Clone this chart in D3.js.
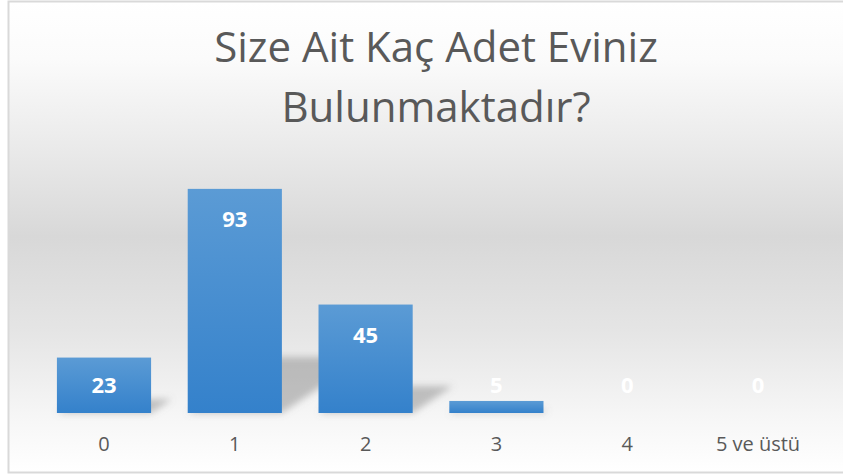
<!DOCTYPE html>
<html>
<head>
<meta charset="utf-8">
<script src="https://cdn.jsdelivr.net/npm/d3@7"></script>
<style>
  html, body { margin: 0; padding: 0; background: #fff; }
  svg { display: block; font-family: "Open Sans", "Noto Sans", sans-serif; }
</style>
</head>
<body>
<svg id="chart"></svg>
<script>
// chart data
const categories = ['0', '1', '2', '3', '4', '5 ve üstü'];
const values = [23, 93, 45, 5, 0, 0];
const titleLines = ['Size Ait Kaç Adet Eviniz', 'Bulunmaktadır?'];
const yDomain = [0, 100];

const width = 843;
const height = 474;

const svg = d3.select('#chart')
    .attr('width', width)
    .attr('height', height);

const defs = svg.append('defs');

// chart area background: light in the top and bottom, grey in the middle
const bg = defs.append('linearGradient')
    .attr('id', 'bg')
    .attr('x1', 0).attr('y1', 0).attr('x2', 0).attr('y2', 1);
[[0, '#ffffff'], [0.12, '#fbfbfb'], [0.3, '#ebebeb'], [0.5, '#d8d8d8'], [0.7, '#e5e5e5'], [0.88, '#f6f6f6'], [1, '#ffffff']]
    .forEach(([o, c]) => bg.append('stop').attr('offset', o).attr('stop-color', c));

const barGrad = defs.append('linearGradient')
    .attr('id', 'bar')
    .attr('x1', 0).attr('y1', 0).attr('x2', 0).attr('y2', 1);
barGrad.append('stop').attr('offset', 0).attr('stop-color', '#5b9bd5');
barGrad.append('stop').attr('offset', 1).attr('stop-color', '#3481cb');

defs.append('filter')
    .attr('id', 'blur')
    .attr('x', '-30%').attr('y', '-30%').attr('width', '160%').attr('height', '160%')
    .append('feGaussianBlur')
    .attr('stdDeviation', 3.5);

svg.append('rect')
    .attr('x', 8.5)
    .attr('y', 1.5)
    .attr('width', 840)
    .attr('height', 471)
    .attr('fill', 'url(#bg)')
    .attr('stroke', '#d9d9d9')
    .attr('stroke-width', 2);

const x = d3.scaleBand()
    .domain(categories)
    .range([38.6, 823.4])
    .paddingInner(0.28)
    .paddingOuter(0.14);

const y = d3.scaleLinear()
    .domain(yDomain)
    .range([413, 172]);

const base = y(0);

// perspective shadows behind the bars
svg.append('g')
    .attr('filter', 'url(#blur)')
    .selectAll('polygon')
    .data(values.map((v, i) => ({ v, c: categories[i] })))
    .join('polygon')
    .attr('points', (d) => {
        const x0 = x(d.c);
        const x1 = x0 + x.bandwidth();
        const h = base - y(d.v);
        const dx = h * 0.37;
        const dy = h * 0.25;
        return [[x0, base], [x1, base], [x1 + dx, base - dy], [x0 + dx, base - dy]].join(' ');
    })
    .attr('fill', '#7f7f7f')
    .attr('opacity', 0.45);

svg.append('g')
    .selectAll('rect')
    .data(values.map((v, i) => ({ v, c: categories[i] })))
    .join('rect')
    .attr('x', d => x(d.c))
    .attr('y', d => y(d.v))
    .attr('width', x.bandwidth())
    .attr('height', d => base - y(d.v))
    .attr('fill', 'url(#bar)');

// data labels, inside end (pushed up when the bar is too short)
svg.append('g')
    .selectAll('text')
    .data(values.map((v, i) => ({ v, c: categories[i] })))
    .join('text')
    .attr('x', d => x(d.c) + x.bandwidth() / 2)
    .attr('y', d => Math.min(y(d.v) + 38, base - 20))
    .attr('text-anchor', 'middle')
    .attr('font-size', 22)
    .attr('font-weight', 700)
    .attr('fill', '#ffffff')
    .text(d => d.v);

// category axis labels
svg.append('g')
    .selectAll('text')
    .data(categories)
    .join('text')
    .attr('x', d => x(d) + x.bandwidth() / 2)
    .attr('y', 451)
    .attr('text-anchor', 'middle')
    .attr('font-size', 20)
    .attr('fill', '#595959')
    .text(d => d);

svg.append('g')
    .selectAll('text')
    .data(titleLines)
    .join('text')
    .attr('x', 436)
    .attr('y', (d, i) => 62 + i * 60)
    .attr('text-anchor', 'middle')
    .attr('font-size', 42)
    .attr('font-weight', 400)
    .attr('fill', '#595959')
    .text(d => d);
</script>
</body>
</html>
